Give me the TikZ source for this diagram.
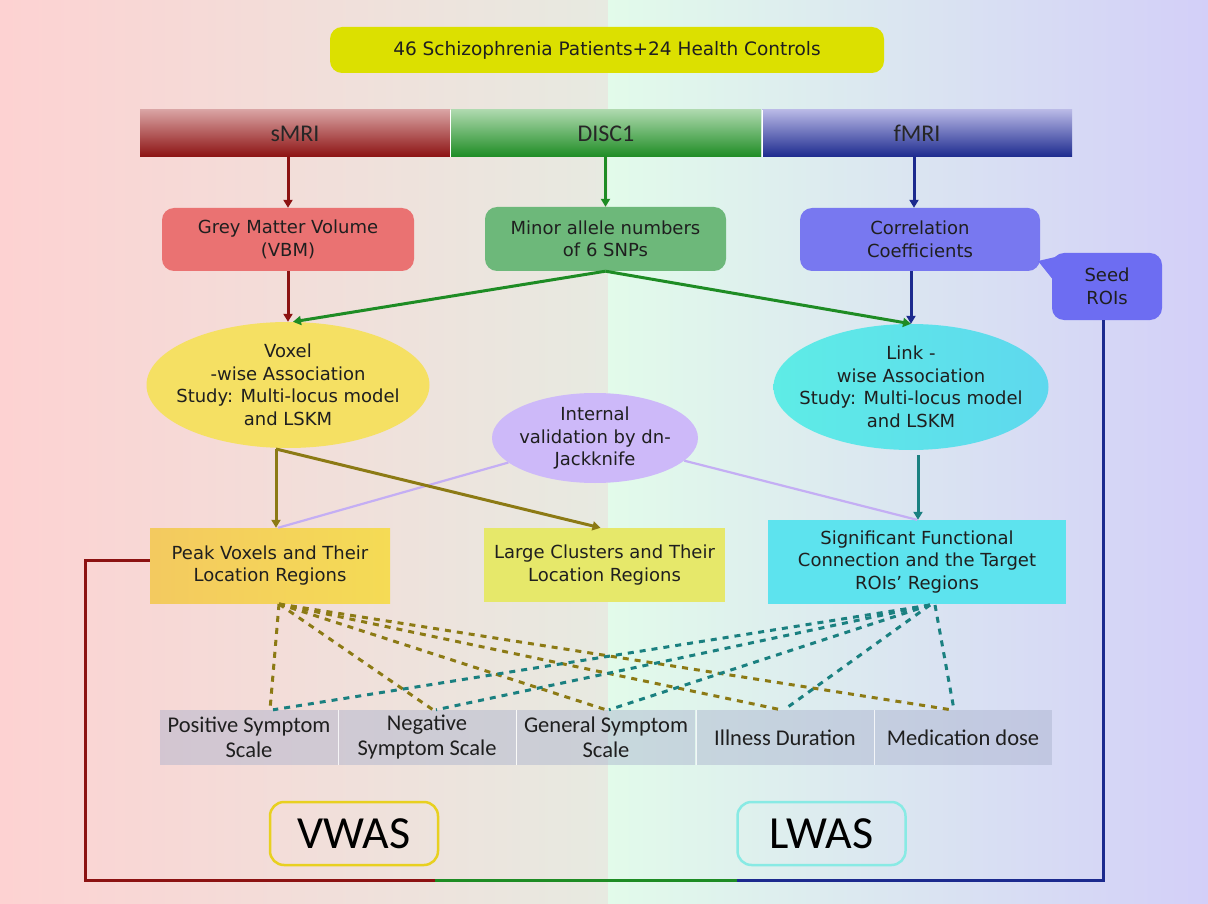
\documentclass[tikz,border=0pt]{standalone}
\usepackage{fontspec}
\setmainfont{DejaVu Sans}
\newfontfamily\narrowf{Carlito}
\usetikzlibrary{arrows.meta,calc,shapes.geometric}
\definecolor{bgA}{HTML}{FDD2D2}
\definecolor{bgB}{HTML}{E7EAE1}
\definecolor{bgC}{HTML}{E2FBEA}
\definecolor{bgD}{HTML}{D3CFF8}
\definecolor{cred}{HTML}{8C1212}
\definecolor{cgreen}{HTML}{1E8C24}
\definecolor{cnavy}{HTML}{1C2A8E}
\definecolor{colive}{HTML}{8C7A14}
\definecolor{cteal}{HTML}{1A8080}
\definecolor{clav}{HTML}{C4AEF4}
\definecolor{fgmv}{HTML}{EA7272}
\definecolor{fmin}{HTML}{6DB87A}
\definecolor{fcor}{HTML}{7878F0}
\definecolor{fseed}{HTML}{6D6DF2}
\definecolor{fvox}{HTML}{F5E063}
\definecolor{flink}{HTML}{5EECE6}
\definecolor{flink2}{HTML}{5ED8EE}
\definecolor{fint}{HTML}{CDB9F9}
\definecolor{fpeak}{HTML}{F2D26A}
\definecolor{flarge}{HTML}{E6E86A}
\definecolor{fsig}{HTML}{5DE3EE}
\definecolor{fbot}{HTML}{A8B0CC}
\definecolor{ftitle}{HTML}{DCE000}
\definecolor{bvwas}{HTML}{E8D020}
\definecolor{blwas}{HTML}{88EAE4}
\tikzset{
  mtext/.style={font=\fontsize{18}{22.5}\selectfont, align=center, text=black!88},
  rbox/.style={mtext, rounded corners=12pt, inner sep=0pt},
  sqbox/.style={mtext, inner sep=0pt},
  ell/.style={ellipse, inner sep=0pt},
  hdr/.style={font=\narrowf\fontsize{24}{26}\selectfont, minimum width=310pt, minimum height=47pt, inner sep=0pt, text=black!85},
  botbox/.style={font=\narrowf\fontsize{22.5}{25}\selectfont, align=center, minimum width=178pt, minimum height=55pt, inner sep=0pt, fill=fbot, fill opacity=0.45, text opacity=1, text=black!88},
  arr/.style={line width=3pt, -{Triangle[width=9pt,length=8pt]}},
  dsh/.style={line width=3pt, dash pattern=on 6pt off 6pt},
  lav/.style={line width=2.2pt, clav},
  tag/.style={font=\narrowf\fontsize{46}{50}\selectfont, rounded corners=14pt, line width=2.5pt, minimum width=168pt, minimum height=63pt, inner sep=0pt}
}
\begin{document}
\begin{tikzpicture}[x=1pt,y=-1pt]
% background
\shade[left color=bgA, right color=bgB] (0,0) rectangle (608,904);
\shade[left color=bgC, right color=bgD] (608,0) rectangle (1208,904);
\useasboundingbox (0,0) rectangle (1208,904);

% title
\node[rbox, fill=ftitle, minimum width=554pt, minimum height=46pt, font=\fontsize{18.5}{22}\selectfont] (title) at (607,50) {46 Schizophrenia Patients+24 Health Controls};

% header bars
\node[hdr, top color=red!25!white!85!black, bottom color=cred] (smri) at (295,133.5) {sMRI};
\node[hdr, top color=green!20!white!85!black, bottom color=cgreen] (disc) at (606,133.5) {DISC1};
\node[hdr, top color=blue!20!white!90!black, bottom color=cnavy] (fmri) at (917,133.5) {fMRI};
\draw[white, line width=1pt] (450,110) -- (450,157) (762,110) -- (762,157);

% second row
\node[rbox, fill=fgmv, minimum width=252pt, minimum height=63pt] (gmv) at (288,239.5) {Grey Matter Volume\\(VBM)};
\node[rbox, fill=fmin, minimum width=241pt, minimum height=64pt] (minor) at (605.5,239) {Minor allele numbers\\of 6 SNPs};
\node[rbox, fill=fcor, minimum width=240pt, minimum height=63pt] (corr) at (920,239.5) {Correlation\\Coefficients};
\fill[fseed] (1038,261) -- (1064,255) -- (1058,286) -- cycle;
\node[rbox, fill=fseed, minimum width=110pt, minimum height=67pt] (seed) at (1107,286.5) {Seed\\ROIs};

% ellipses
\node[ell, fill=fvox, minimum width=283pt, minimum height=126pt,
  label={[mtext]center:{Voxel\\-wise Association\\Study: Multi-locus model\\and LSKM}}] (voxel) at (288,385) {};
\node[ell, left color=flink, right color=flink2, minimum width=275pt, minimum height=126pt,
  label={[mtext]center:{Link -\\wise Association\\Study: Multi-locus model\\and LSKM}}] (link) at (911,387) {};
\node[ell, fill=fint, minimum width=206pt, minimum height=90pt,
  label={[mtext]center:{Internal\\validation by dn-\\Jackknife}}] (intv) at (595,438) {};

% third row
\node[sqbox, left color=fpeak!90!orange, right color=fpeak!80!yellow, minimum width=240pt, minimum height=75pt] (peak) at (270,565.5) {Peak Voxels and Their\\Location Regions};
\node[sqbox, fill=flarge, minimum width=241pt, minimum height=74pt] (large) at (604.5,565) {Large Clusters and Their\\Location Regions};
\node[sqbox, fill=fsig, minimum width=298pt, minimum height=84pt] (sig) at (917,562) {Significant Functional\\Connection and the Target\\ROIs' Regions};

% bottom row
\node[botbox] (pos) at (249,737.5) {Positive Symptom\\Scale};
\node[botbox] (neg) at (427,737.5) {Negative\\Symptom Scale};
\node[botbox] (gen) at (606,737.5) {General Symptom\\Scale};
\node[botbox] (ill) at (785,737.5) {Illness Duration};
\node[botbox] (med) at (963,737.5) {Medication dose};
\draw[white, line width=1pt, opacity=0.8] (338,710) -- (338,765) (516,710) -- (516,765) (696,710) -- (696,765) (874,710) -- (874,765);

% tags
\node[tag, draw=bvwas] (vwas) at (354,833.5) {VWAS};
\node[tag, draw=blwas] (lwas) at (821.5,833.5) {LWAS};

% arrows from headers
\draw[arr, cred] (smri.south -| gmv.north) -- (gmv.north);
\draw[arr, cgreen] (disc.south -| minor.north) -- (minor.north);
\draw[arr, cnavy] (fmri.south -| 914,0) -- (corr.north -| 914,0);

% into ellipses
\draw[arr, cred] (gmv.south) -- (gmv.south |- voxel.north);
\draw[arr, cgreen] (minor.south) -- ($(voxel.north)+(5,0)$);
\draw[arr, cgreen] (minor.south) -- (link.north);
\draw[arr, cnavy] (corr.south -| link.north) -- (link.north);

% validation lines
\draw[lav] (intv) -- ($(peak.north)+(8,0)$);
\draw[lav] (intv) -- (sig.north);

% ellipse to results
\coordinate (vb) at (276,449);
\draw[arr, colive] (vb) -- (vb |- peak.north);
\draw[arr, colive] (vb) -- ($(large.north)+(-4,0)$);
\coordinate (lb) at (918,455);
\draw[arr, cteal] (lb) -- (lb |- sig.north);

% dashed links
\coordinate (pk) at (279,604);
\coordinate (sg) at (930,605);
\coordinate (sg2) at (935,605);
\coordinate (e1) at ($(pos.north)+(21,0)$);
\coordinate (e2) at ($(neg.north)+(6,0)$);
\coordinate (e3) at ($(gen.north)+(0,0)$);
\coordinate (e4) at ($(ill.north)+(-4,0)$);
\coordinate (e5) at ($(med.north)+(-12,0)$);
\foreach \e in {e1,e2,e3,e4,e5} \draw[dsh, colive] (pk) -- (\e);
\foreach \e in {e1,e2,e3,e4} \draw[dsh, cteal] (sg) -- ($(\e)+(3,0)$);
\draw[dsh, cteal] (sg2) -- ($(e5)+(3,0)$);

% feedback frame
\coordinate (c1) at (85,880);
\coordinate (c2) at (435,880);
\coordinate (c3) at (737,880);
\draw[cred, line width=3pt] (peak.west |- 0,560) -- (85,560) -- (c1) -- (c2);
\draw[cgreen, line width=3pt] (c2) -- (c3);
\draw[cnavy, line width=3pt] (c3) -- (1103,880) -- (1103,880 |- seed.south);
\end{tikzpicture}
\end{document}
